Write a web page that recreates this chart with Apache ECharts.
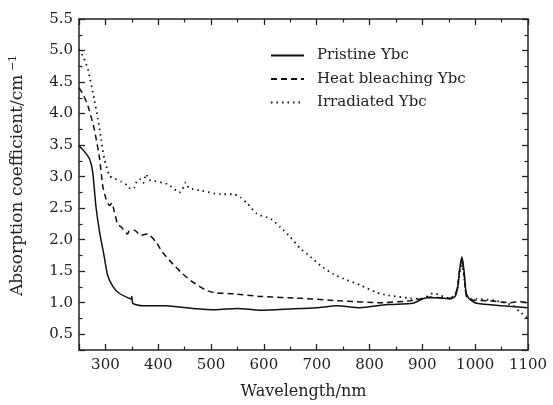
<!DOCTYPE html>
<html><head><meta charset="utf-8">
<script src="https://cdn.jsdelivr.net/npm/echarts@6/dist/echarts.min.js"></script>
<style>html,body{margin:0;padding:0;background:#fff}#c{width:553px;height:405px}</style>
</head><body><div id="c"></div>
<script>
const seriesNames = ['Pristine Ybc', 'Heat bleaching Ybc', 'Irradiated Ybc'];
const xTickLabels = [300, 400, 500, 600, 700, 800, 900, 1000, 1100];
const yTickLabels = [0.5, 1.0, 1.5, 2.0, 2.5, 3.0, 3.5, 4.0, 4.5, 5.0, 5.5];

const pristineX = [250, 260, 270, 276, 282, 289, 298, 304, 314, 326, 345, 349, 350, 352, 370, 414, 465, 509, 550, 594, 650, 700, 738, 782, 833, 882, 895, 908, 930, 952, 962, 967, 971, 975, 979, 983, 990, 1003, 1052, 1100];
const pristineY = [3.49, 3.40, 3.28, 3.07, 2.53, 2.12, 1.72, 1.44, 1.26, 1.15, 1.07, 1.06, 1.10, 0.99, 0.95, 0.95, 0.91, 0.89, 0.91, 0.88, 0.90, 0.92, 0.95, 0.92, 0.97, 0.99, 1.04, 1.08, 1.08, 1.06, 1.10, 1.25, 1.55, 1.73, 1.50, 1.15, 1.05, 0.99, 0.95, 0.92];

const heatX = [250, 258, 267, 279, 289, 295, 301, 308, 312, 317, 323, 330, 342, 345, 355, 367, 380, 396, 408, 427, 446, 465, 490, 506, 543, 594, 669, 745, 820, 877, 895, 914, 952, 962, 967, 971, 975, 979, 983, 990, 1028, 1066, 1085, 1100];
const heatY = [4.41, 4.30, 4.12, 3.75, 3.28, 2.85, 2.65, 2.54, 2.58, 2.44, 2.25, 2.20, 2.09, 2.14, 2.15, 2.07, 2.09, 1.96, 1.80, 1.62, 1.46, 1.33, 1.20, 1.16, 1.14, 1.10, 1.07, 1.03, 1.00, 1.03, 1.06, 1.09, 1.07, 1.12, 1.28, 1.55, 1.70, 1.45, 1.12, 1.05, 1.03, 1.00, 1.02, 0.99];

const irradX = [250, 258, 267, 279, 286, 292, 298, 308, 317, 330, 342, 348, 355, 360, 367, 372, 377, 383, 392, 418, 440, 446, 452, 458, 481, 518, 543, 556, 569, 587, 613, 631, 650, 669, 688, 707, 732, 757, 782, 814, 833, 877, 900, 920, 952, 962, 967, 971, 975, 979, 983, 990, 1003, 1040, 1071, 1084, 1100];
const irradY = [5.02, 4.90, 4.70, 4.22, 3.91, 3.59, 3.28, 3.01, 2.97, 2.92, 2.86, 2.80, 2.83, 2.94, 2.96, 2.90, 3.04, 2.95, 2.93, 2.88, 2.75, 2.80, 2.91, 2.82, 2.78, 2.72, 2.72, 2.67, 2.57, 2.41, 2.33, 2.20, 2.04, 1.86, 1.73, 1.59, 1.45, 1.36, 1.28, 1.16, 1.12, 1.07, 1.06, 1.15, 1.07, 1.12, 1.25, 1.50, 1.60, 1.40, 1.12, 1.06, 1.06, 1.03, 0.96, 0.86, 0.75];

const pair = (xs, ys) => xs.map((x, i) => [x, ys[i]]);
const FONT = 'DejaVu Serif';
const INK = '#222';

function xAx(pos, labels) {
  return {
    type: 'value', position: pos, min: 250, max: 1100, minInterval: 100, maxInterval: 100,
    axisLine: { show: true, onZero: false, lineStyle: { color: INK, width: 1.5 } },
    axisTick: { show: true, inside: true, length: 6, lineStyle: { color: INK, width: 1.3 } },
    minorTick: { show: true, splitNumber: 2, length: 3.5, lineStyle: { color: INK, width: 1.2 } },
    minorSplitLine: { show: false },
    axisLabel: labels ? { show: true, color: INK, fontFamily: FONT, fontSize: 15, margin: 8,
      formatter: v => (xTickLabels.indexOf(v) >= 0 ? String(v) : '') } : { show: false },
    splitLine: { show: false },
    name: labels ? 'Wavelength/nm' : '', nameLocation: 'middle', nameGap: 34,
    nameTextStyle: { color: INK, fontFamily: FONT, fontSize: 16 }
  };
}
function yAx(pos, labels) {
  return {
    type: 'value', position: pos, min: 0.25, max: 5.5, minInterval: 0.5, maxInterval: 0.5,
    axisLine: { show: true, onZero: false, lineStyle: { color: INK, width: 1.5 } },
    axisTick: { show: true, inside: true, length: 6, lineStyle: { color: INK, width: 1.3 } },
    minorTick: { show: true, splitNumber: 2, length: 3.5, lineStyle: { color: INK, width: 1.2 } },
    minorSplitLine: { show: false },
    axisLabel: labels ? { show: true, color: INK, fontFamily: FONT, fontSize: 15, margin: 6,
      formatter: v => (yTickLabels.some(t => Math.abs(t - v) < 1e-6) ? v.toFixed(1) : '') } : { show: false },
    splitLine: { show: false },
    name: labels ? '{t|Absorption coefficient/cm}{s| −1}' : '', nameLocation: 'middle', nameGap: 51, nameRotate: 90,
    nameTextStyle: { color: INK, fontFamily: FONT, fontSize: 17, padding: [0, 0, 0, 18],
      rich: { t: { fontFamily: FONT, fontSize: 17, color: INK }, s: { fontFamily: FONT, fontSize: 11, color: INK, verticalAlign: 'top', padding: [0, 0, 9, 0] } } }
  };
}

const chart = echarts.init(document.getElementById('c'), null, { renderer: 'canvas' });
chart.setOption({
  animation: false,
  backgroundColor: '#fff',
  grid: { left: 70, right: 25, top: 19, bottom: 53, containLabel: false },
  xAxis: [xAx('bottom', true), xAx('top', false)],
  yAxis: [yAx('left', true), yAx('right', false)],
  legend: {
    show: true, orient: 'vertical', left: 270, top: 48, padding: 0, itemWidth: 33, itemHeight: 14, itemGap: 8.5,
    data: seriesNames,
    itemStyle: { opacity: 0 },
    textStyle: { color: INK, fontFamily: FONT, fontSize: 15, padding: [0, 0, 0, 8] }
  },
  series: [
    { name: seriesNames[0], type: 'line', data: pair(pristineX, pristineY), symbol: 'none', smooth: 0.2,
      lineStyle: { color: '#111', width: 1.5, type: 'solid' }, itemStyle: { color: '#111' } },
    { name: seriesNames[1], type: 'line', data: pair(heatX, heatY), symbol: 'none', smooth: 0.2,
      lineStyle: { color: '#111', width: 1.5, type: [6, 4] }, itemStyle: { color: '#111' } },
    { name: seriesNames[2], type: 'line', data: pair(irradX, irradY), symbol: 'none', smooth: 0.2,
      lineStyle: { color: '#111', width: 1.8, type: [1.5, 4] }, itemStyle: { color: '#111' } }
  ]
});
</script></body></html>
